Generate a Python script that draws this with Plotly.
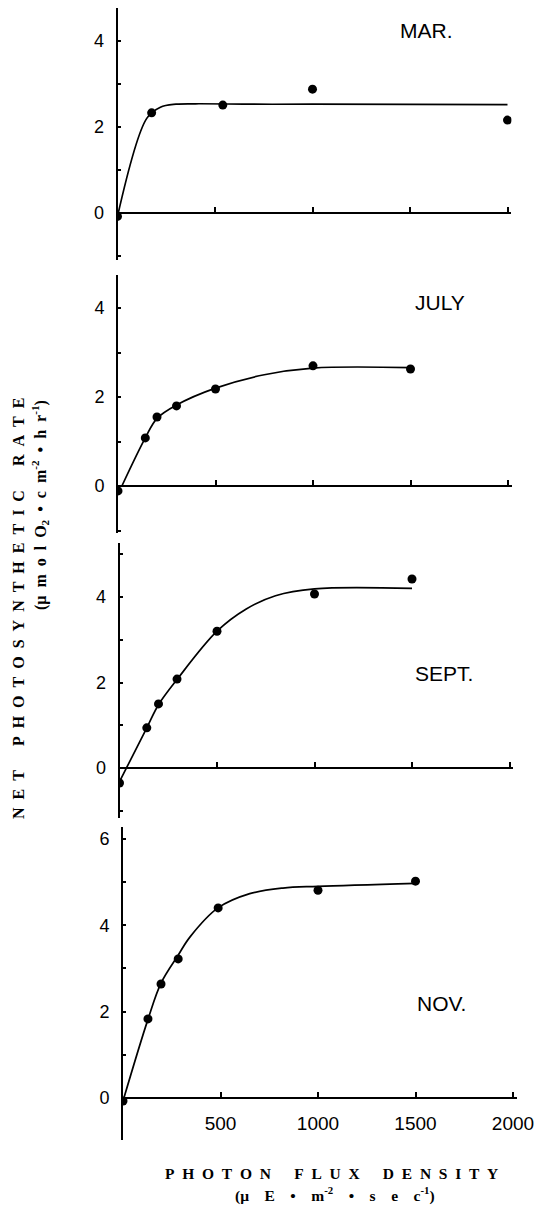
import plotly.graph_objects as go

# ---------------- data ----------------
months = ["MAR.", "JULY", "SEPT.", "NOV."]

mar_x = [0, 175, 540, 1000, 2000]
mar_y = [-0.08, 2.33, 2.51, 2.88, 2.16]
mar_curve_x = [0, 150, 220, 300, 400, 700, 1000, 2000]
mar_curve_y = [-0.08, 2.2, 2.46, 2.53, 2.54, 2.53, 2.53, 2.52]

jul_x = [0, 140, 200, 300, 500, 1000, 1500]
jul_y = [-0.11, 1.08, 1.55, 1.80, 2.18, 2.70, 2.63]
jul_curve_x = [20, 140, 200, 300, 500, 750, 1000, 1500]
jul_curve_y = [0.0, 1.08, 1.52, 1.82, 2.2, 2.5, 2.65, 2.66]

sep_x = [0, 140, 200, 295, 500, 1000, 1500]
sep_y = [-0.35, 0.94, 1.50, 2.08, 3.20, 4.07, 4.42]
sep_curve_x = [0, 140, 200, 295, 500, 650, 800, 1000, 1500]
sep_curve_y = [-0.32, 0.94, 1.48, 2.07, 3.2, 3.72, 4.03, 4.19, 4.2]

nov_x = [0, 128, 195, 283, 488, 1000, 1500]
nov_y = [-0.07, 1.83, 2.64, 3.22, 4.40, 4.81, 5.02]
nov_curve_x = [0, 128, 195, 282, 344, 487, 650, 820, 1000, 1500]
nov_curve_y = [-0.07, 1.82, 2.66, 3.3, 3.73, 4.4, 4.73, 4.86, 4.9, 4.97]

x_tickvals = [500, 1000, 1500, 2000]
x_ticktext = ["500", "1000", "1500", "2000"]

points_x = [mar_x, jul_x, sep_x, nov_x]
points_y = [mar_y, jul_y, sep_y, nov_y]
curves_x = [mar_curve_x, jul_curve_x, sep_curve_x, nov_curve_x]
curves_y = [mar_curve_y, jul_curve_y, sep_curve_y, nov_curve_y]
y_tickvals = [[0, 2, 4], [0, 2, 4], [0, 2, 4], [0, 2, 4, 6]]

# ---------------- layout geometry (pixels) ----------------
W, H = 534, 1215
XMAX = 2020
PX_PER_UNIT = 0.195
# (x pixel of x=0, top px, bottom px, zero px, px per y unit)
panel_geom = [
    (117.5, 8, 260, 213, 43.0),
    (118.0, 275, 533, 486, 44.5),
    (119.5, 543, 818, 768, 42.75),
    (123.0, 827, 1140, 1098, 43.2),
]
label_pos = [(398, 31), (413, 302), (413, 673), (415, 1003)]

TICK_FONT = "Liberation Sans, Arial, sans-serif"
TITLE_FONT = "Liberation Serif, Times New Roman, serif"

fig = go.Figure()
layout = dict(
    width=W, height=H, autosize=False,
    margin=dict(l=0, r=0, t=0, b=0, autoexpand=False),
    paper_bgcolor="white", plot_bgcolor="rgba(0,0,0,0)",
    showlegend=False,
    annotations=[],
)

for i in range(4):
    x0, top, bot, zero, unit = panel_geom[i]
    xa = "x" if i == 0 else f"x{i+1}"
    ya = "y" if i == 0 else f"y{i+1}"
    xkey = "xaxis" if i == 0 else f"xaxis{i+1}"
    ykey = "yaxis" if i == 0 else f"yaxis{i+1}"

    fig.add_trace(go.Scatter(
        x=curves_x[i], y=curves_y[i], mode="lines",
        line=dict(color="black", width=1.7, shape="spline", smoothing=1.0),
        xaxis=xa, yaxis=ya, hoverinfo="skip"))
    fig.add_trace(go.Scatter(
        x=points_x[i], y=points_y[i], mode="markers",
        marker=dict(color="black", size=9),
        xaxis=xa, yaxis=ya))

    last = (i == 3)
    layout[xkey] = dict(
        domain=[x0 / W, (x0 + XMAX * PX_PER_UNIT) / W],
        range=[0, XMAX],
        anchor="free", position=1 - zero / H, automargin=False,
        showline=True, linecolor="black", linewidth=1.6,
        ticks="inside", ticklen=5, tickwidth=1.5, tickcolor="black",
        tickvals=x_tickvals, ticktext=x_ticktext,
        showticklabels=last, ticklabelstandoff=8, ticklabeloverflow="allow",
        tickfont=dict(family=TICK_FONT, size=19, color="black"),
        showgrid=False, zeroline=False, fixedrange=True,
    )
    layout[ykey] = dict(
        domain=[1 - bot / H, 1 - top / H],
        range=[-(bot - zero) / unit, (zero - top) / unit],
        anchor=xa, automargin=False,
        showline=True, linecolor="black", linewidth=2,
        ticks="inside", ticklen=3, tickwidth=1.5, tickcolor="black",
        tickvals=y_tickvals[i],
        minor=dict(dtick=1, ticks="inside", ticklen=3, tickwidth=1.5, tickcolor="black"),
        ticklabelstandoff=8,
        tickfont=dict(family=TICK_FONT, size=18, color="black"),
        showgrid=False, zeroline=False, fixedrange=True,
    )
    lx, ly = label_pos[i]
    layout["annotations"].append(dict(
        text=months[i], x=lx / W, y=1 - ly / H, xref="paper", yref="paper",
        showarrow=False, xanchor="left", yanchor="middle",
        font=dict(family="Liberation Sans, Arial, sans-serif", size=21, color="black")))

# letter-spaced titles
EN = "\u2002"
WORD = "\u2003\u2002"
def spaced(s, gap=EN, word=WORD):
    return word.join(gap.join(w) for w in s.split(" "))

y_title = spaced("NET PHOTOSYNTHETIC RATE")
g = "\u2002"
y_sub = ("(μ" + g + "m" + g + "o" + g + "l" + g + "O<sub>2</sub>" + g + "•" + g + "c" + g
         + "m<sup>-2</sup>" + g + "•" + g + "h" + g + "r<sup>-1</sup>)")
x_title = spaced("PHOTON FLUX DENSITY")
G = "\u2002\u2002"
x_sub = "(μ" + G + "E" + G + "•" + G + "m<sup>-2</sup>" + G + "•" + G + "s" + G + "e" + G + "c<sup>-1</sup>)"

layout["annotations"] += [
    dict(text="<b>" + y_title + "</b>", x=18 / W, y=1 - 609 / H,
         xref="paper", yref="paper", showarrow=False, textangle=-90,
         xanchor="center", yanchor="middle",
         font=dict(family=TITLE_FONT, size=16, color="black")),
    dict(text="<b>" + y_sub + "</b>",
         x=40 / W, y=1 - 505 / H, xref="paper", yref="paper", showarrow=False,
         textangle=-90, xanchor="center", yanchor="middle",
         font=dict(family=TITLE_FONT, size=16, color="black")),
    dict(text="<b>" + x_title + "</b>", x=331 / W, y=1 - 1173 / H,
         xref="paper", yref="paper", showarrow=False, xanchor="center", yanchor="middle",
         font=dict(family=TITLE_FONT, size=15.5, color="black")),
    dict(text="<b>" + x_sub + "</b>", x=335 / W, y=1 - 1194 / H,
         xref="paper", yref="paper", showarrow=False, xanchor="center", yanchor="middle",
         font=dict(family=TITLE_FONT, size=15.5, color="black")),
]

fig.update_layout(**layout)

post = (
    "var s=document.createElement('style');"
    "s.textContent='html,body{margin:0;padding:0;overflow:hidden}"
    ".plotly-graph-div{display:block}';"
    "document.head.appendChild(s);"
)
fig.write_html("out.html", config={"responsive": False, "displayModeBar": False},
               post_script=post)
